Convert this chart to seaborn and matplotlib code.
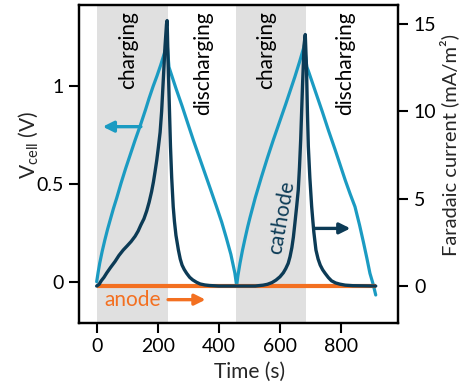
import matplotlib
matplotlib.use("Agg")
import matplotlib.pyplot as plt
import seaborn as sns
import pandas as pd

# --- cell voltage (left axis) ---
t_cell = [0, 5, 10, 18, 27, 36, 45, 55, 66, 80, 95, 110, 126, 143, 160, 172,
          185, 198, 210, 221, 231,
          237, 240, 260, 280, 300, 317, 336, 355, 374, 393, 410, 425, 440, 453, 459,
          463, 470, 478, 487, 495, 503, 520, 540, 560, 579, 600, 620, 635, 650,
          665, 681,
          689, 694, 717, 740, 760, 781, 798, 815, 831, 847, 862, 875, 886, 896,
          906, 915]
v_cell = [0.0, 0.05, 0.095, 0.155, 0.215, 0.27, 0.32, 0.375, 0.43, 0.505, 0.58,
          0.65, 0.725, 0.80, 0.88, 0.94, 1.0, 1.055, 1.11, 1.165, 1.22,
          1.10, 1.085, 0.99, 0.90, 0.805, 0.725, 0.64, 0.555, 0.47, 0.384, 0.305,
          0.225, 0.14, 0.045, -0.02,
          0.03, 0.095, 0.16, 0.225, 0.28, 0.33, 0.43, 0.535, 0.635, 0.725, 0.82,
          0.91, 0.98, 1.05, 1.125, 1.21,
          1.10, 1.08, 0.975, 0.87, 0.775, 0.68, 0.60, 0.52, 0.45, 0.384, 0.29,
          0.20, 0.12, 0.043, -0.01, -0.068]

# --- cathode Faradaic current (right axis) ---
t_cat = [0, 8, 15, 24, 33, 45, 60, 73, 87, 100, 113, 126, 136, 145, 155, 164,
         172, 180, 186, 191, 197, 202, 208, 213, 219, 224, 229, 231,
         234, 238, 242, 246, 251, 255, 260, 268, 274, 280, 287, 295, 305, 315,
         327, 339, 355, 370, 400, 460, 520,
         546, 560, 575, 588, 601, 612, 620, 628, 634, 640, 645, 650, 656, 661,
         665, 669, 675, 680, 684,
         688, 691, 694, 699, 705, 709, 712, 716, 719, 726, 733, 741, 749, 760,
         770, 783, 797, 815, 840, 915]
i_cat = [0.0, 0.1, 0.3, 0.5, 0.75, 1.05, 1.4, 1.75, 2.06, 2.3, 2.55, 2.85, 3.15,
         3.5, 3.85, 4.3, 4.8, 5.4, 5.95, 6.5, 7.2, 7.9, 8.8, 10.0, 12.0, 13.7,
         15.0, 15.2,
         13.0, 10.5, 8.0, 6.2, 4.54, 3.7, 2.9, 2.06, 1.55, 1.2, 0.95, 0.73, 0.5,
         0.35, 0.22, 0.12, 0.06, 0.03, 0.0, 0.0, 0.0,
         0.05, 0.1, 0.2, 0.34, 0.53, 0.76, 1.0, 1.3, 1.68, 2.2, 2.8, 3.6, 4.6,
         5.5, 6.8, 8.4, 11.5, 13.8, 14.4,
         12.5, 10.0, 8.0, 6.2, 4.54, 3.7, 3.1, 2.5, 2.06, 1.55, 1.2, 0.93, 0.73,
         0.48, 0.3, 0.18, 0.11, 0.05, 0.02, 0.0]

# --- anode Faradaic current (right axis) ---
t_an = [0, 915]
i_an = [0.0, 0.0]

# charging half-cycles
charge_start = [0, 456]
charge_end = [233, 686]
discharge_mid = [350, 815]

C_CELL = "#1b9bc2"
C_CAT = "#0c3b56"
C_AN = "#f37021"
C_SHADE = "#e0e0e0"

sns.set_theme(style="ticks")
plt.rcParams["font.family"] = ["Lato", "DejaVu Sans"]
plt.rcParams["axes.linewidth"] = 1.6

fig = plt.figure(figsize=(4.6, 3.89), dpi=100)
ax = fig.add_axes([0.1717, 0.1704, 0.6935, 0.8167])
ax2 = ax.twinx()

for s, e in zip(charge_start, charge_end):
    ax.axvspan(s, e, color=C_SHADE, lw=0, zorder=0)

df_cell = pd.DataFrame({"t": t_cell, "v": v_cell})
df_cat = pd.DataFrame({"t": t_cat, "i": i_cat})
df_an = pd.DataFrame({"t": t_an, "i": i_an})

sns.lineplot(data=df_cell, x="t", y="v", ax=ax, color=C_CELL, lw=2.3,
             sort=False, estimator=None)
sns.lineplot(data=df_an, x="t", y="i", ax=ax2, color=C_AN, lw=3.0,
             sort=False, estimator=None, solid_capstyle="butt")
sns.lineplot(data=df_cat, x="t", y="i", ax=ax2, color=C_CAT, lw=2.4,
             sort=False, estimator=None)

ax.set_xlim(-58, 988)
ax.set_ylim(-0.21, 1.417)
ax2.set_ylim(-2.1, 16.09)

ax.set_xticks([0, 200, 400, 600, 800])
ax.set_yticks([0, 0.5, 1])
ax.set_yticklabels(["0", "0.5", "1"])
ax2.set_yticks([0, 5, 10, 15])

for a in (ax, ax2):
    a.tick_params(direction="out", length=7, width=1.5, labelsize=14,
                  color="black", labelcolor="black", pad=4)
    for sp in a.spines.values():
        sp.set_visible(True)
        sp.set_color("black")
        sp.set_linewidth(1.6)
ax2.tick_params(axis="y", pad=4.5)

ax.set_xlabel("Time (s)", fontsize=15)
ax.set_ylabel(r"V$_\mathregular{cell}$ (V)", fontsize=15)
ax2.set_ylabel("Faradaic current (mA/m²)", fontsize=14.5)
ax.xaxis.set_label_coords(0.536, -0.122)
ax.yaxis.set_label_coords(-0.12, 0.56)
ax2.yaxis.set_label_coords(1.128, 0.56)

# phase labels
for s, e, m in zip(charge_start, charge_end, discharge_mid):
    ax.text((s + e) / 2 - 14, 1.385, "charging", rotation=90, ha="center",
            va="top", fontsize=15, color="black")
    ax.text(m, 1.385, "discharging", rotation=90, ha="center", va="top",
            fontsize=15, color="black")

# series labels and axis arrows
ax.annotate("", xy=(20, 0.794), xytext=(145, 0.794),
            arrowprops=dict(arrowstyle="-|>", color=C_CELL, lw=2.4,
                            mutation_scale=16, shrinkA=0, shrinkB=0))
ax2.annotate("", xy=(832, 3.3), xytext=(714, 3.3),
             arrowprops=dict(arrowstyle="-|>", color=C_CAT, lw=2.4,
                             mutation_scale=16, shrinkA=0, shrinkB=0))
ax2.annotate("", xy=(357, -0.78), xytext=(234, -0.78),
             arrowprops=dict(arrowstyle="-|>", color=C_AN, lw=2.4,
                             mutation_scale=16, shrinkA=0, shrinkB=0))
ax2.text(117, -0.78, "anode", color=C_AN, fontsize=15, ha="center",
         va="center")
ax2.text(606, 3.93, "cathode", color=C_CAT, fontsize=15, ha="center",
         va="center", rotation=80, rotation_mode="anchor")

fig.savefig("out.png", dpi=100)
